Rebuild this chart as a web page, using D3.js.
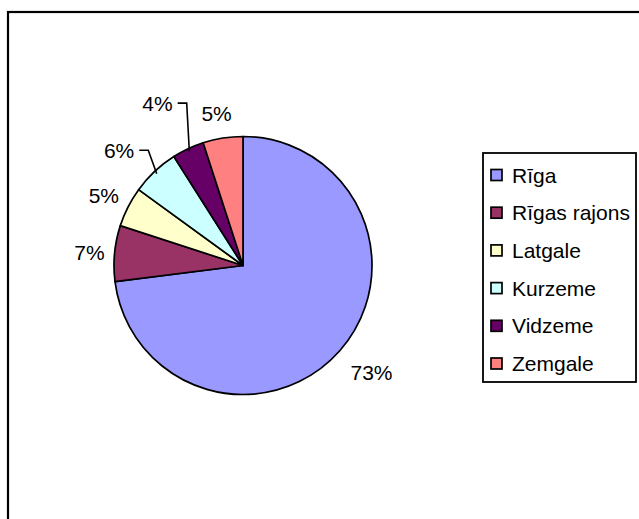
<!DOCTYPE html>
<html>
<head>
<meta charset="utf-8">
<script src="https://cdn.jsdelivr.net/npm/d3@7"></script>
<style>
  html, body { margin: 0; padding: 0; background: #fff; }
  svg { display: block; }
  text { font-family: "Liberation Sans", Arial, sans-serif; fill: #000; }
</style>
</head>
<body>
<svg id="chart" width="639" height="519"></svg>
<script>
// ---- data ----
const categories = ["Rīga", "Rīgas rajons", "Latgale", "Kurzeme", "Vidzeme", "Zemgale"];
const values = [73, 7, 5, 6, 4, 5];
const colors = ["#9999FF", "#993366", "#FFFFCC", "#CCFFFF", "#660066", "#FF8080"];

// ---- layout ----
const W = 639, H = 519;
const cx = 243, cy = 265.5, r = 129;
const fontSize = 21;
const labelGap = 12;
// manual label offsets (as moved in the original) and which ones get leader lines
const labelNudge = { "Rīga": [7, 9], "Rīgas rajons": [2, 1], "Latgale": [0, -3], "Kurzeme": [-17, -7], "Vidzeme": [-19, -28], "Zemgale": [-2, -5] };
const leaders = new Set(["Kurzeme", "Vidzeme"]);

const svg = d3.select("#chart");

// outer frame
svg.append("rect")
  .attr("x", 8).attr("y", 12)
  .attr("width", W + 10).attr("height", H + 10)
  .attr("fill", "#fff").attr("stroke", "#000").attr("stroke-width", 2.2);

const data = categories.map((c, i) => ({ cat: c, value: values[i], color: colors[i] }));
const pie = d3.pie().sort(null).value(d => d.value);
const arcs = pie(data);
const arc = d3.arc().innerRadius(0).outerRadius(r);
const total = d3.sum(values);

const g = svg.append("g").attr("transform", `translate(${cx},${cy})`);

g.selectAll("path.slice")
  .data(arcs)
  .join("path")
  .attr("class", "slice")
  .attr("d", arc)
  .attr("fill", d => d.data.color)
  .attr("stroke", "#000")
  .attr("stroke-width", 1.7)
  .attr("stroke-linejoin", "round");

// labels
arcs.forEach(d => {
  const a = (d.startAngle + d.endAngle) / 2;
  const s = Math.sin(a), c = Math.cos(a);
  const txt = d3.format(".0%")(d.data.value / total);
  const t = g.append("text")
    .attr("text-anchor", "middle")
    .attr("dominant-baseline", "central")
    .style("font-size", fontSize + "px")
    .text(txt);
  const w = t.node().getComputedTextLength();
  const h = fontSize * 0.72;
  const R = r + labelGap;
  const nud = labelNudge[d.data.cat] || [0, 0];
  const x = R * s + s * w / 2 + nud[0];
  const y = -R * c - c * h / 2 + nud[1];
  t.attr("x", x).attr("y", y);
  if (leaders.has(d.data.cat)) {
    const x0 = x + w / 2 + 5;
    const x1 = x0 + 9;
    const ex = (r - 3) * s, ey = -(r - 3) * c;
    g.append("path")
      .attr("d", d3.line()([[x0, y], [x1, y], [ex, ey]]))
      .attr("fill", "none")
      .attr("stroke", "#000")
      .attr("stroke-width", 1.6);
  }
});

// legend
const lg = svg.append("g");
const lx = 483, ly = 153, lw = 153, lh = 229;
lg.append("rect")
  .attr("x", lx).attr("y", ly).attr("width", lw).attr("height", lh)
  .attr("fill", "#fff").attr("stroke", "#000").attr("stroke-width", 1.8);

const rowY = d3.scalePoint().domain(categories).range([175, 363.5]);
const items = lg.selectAll("g.item").data(data).join("g").attr("class", "item")
  .attr("transform", d => `translate(0,${rowY(d.cat)})`);
items.append("rect")
  .attr("x", 491).attr("y", -5.5).attr("width", 11).attr("height", 11)
  .attr("fill", d => d.color).attr("stroke", "#000").attr("stroke-width", 1.7);
items.append("text")
  .attr("x", 512).attr("y", 0)
  .attr("dominant-baseline", "central")
  .style("font-size", fontSize + "px")
  .text(d => d.cat);
</script>
</body>
</html>
